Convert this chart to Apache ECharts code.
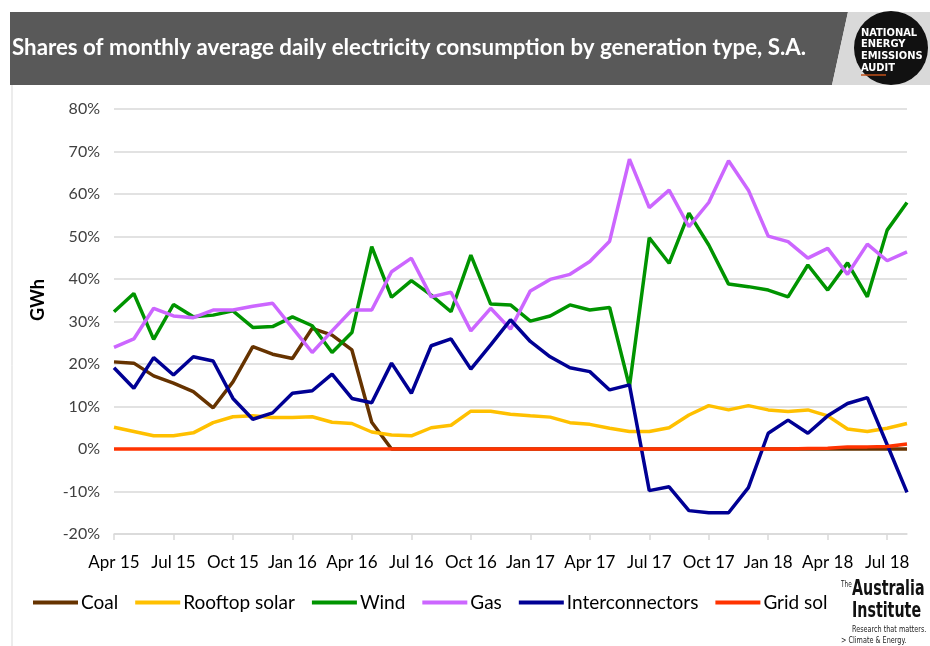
<!DOCTYPE html>
<html>
<head>
<meta charset="utf-8">
<script src="https://cdn.jsdelivr.net/npm/echarts@6/dist/echarts.min.js"></script>
<style>
  html, body { margin: 0; padding: 0; background: #fff; }
  #chart { width: 930px; height: 646px; }
</style>
</head>
<body>
<div id="chart"></div>
<script>
const months = ['Apr 15', 'May 15', 'Jun 15', 'Jul 15', 'Aug 15', 'Sep 15', 'Oct 15', 'Nov 15', 'Dec 15',
    'Jan 16', 'Feb 16', 'Mar 16', 'Apr 16', 'May 16', 'Jun 16', 'Jul 16', 'Aug 16', 'Sep 16', 'Oct 16', 'Nov 16', 'Dec 16',
    'Jan 17', 'Feb 17', 'Mar 17', 'Apr 17', 'May 17', 'Jun 17', 'Jul 17', 'Aug 17', 'Sep 17', 'Oct 17', 'Nov 17', 'Dec 17',
    'Jan 18', 'Feb 18', 'Mar 18', 'Apr 18', 'May 18', 'Jun 18', 'Jul 18', 'Aug 18'];

// shares in %
const coal = [20.5, 20.2, 17.2, 15.5, 13.5, 9.7, 15.8, 24.1, 22.3, 21.3, 28.4, 26.8, 23.3, 6.3, 0,
    0, 0, 0, 0, 0, 0, 0, 0, 0, 0, 0, 0, 0, 0, 0, 0, 0, 0, 0, 0, 0, 0, 0, 0, 0, 0];
const rooftopSolar = [5.1, 4.1, 3.1, 3.1, 3.8, 6.2, 7.6, 7.8, 7.4, 7.4, 7.6, 6.3, 6.0, 4.0,
    3.3, 3.1, 5.0, 5.6, 8.9, 8.9, 8.2, 7.8, 7.5, 6.2, 5.8, 4.9, 4.1,
    4.1, 5.0, 8.0, 10.2, 9.2, 10.2, 9.2, 8.8, 9.2, 7.8, 4.7, 4.1, 4.9, 6.0];
const wind = [32.3, 36.6, 25.8, 34.0, 31.1, 31.5, 32.5, 28.6, 28.8, 31.1, 29.0, 22.7, 27.4,
    47.6, 35.7, 39.6, 36.2, 32.3, 45.6, 34.1, 33.9, 30.1, 31.3, 33.9, 32.7, 33.3,
    14.7, 49.7, 43.7, 55.5, 48.0, 38.8, 38.2, 37.4, 35.8, 43.3, 37.4, 43.8, 35.8, 51.5, 58.0];
const gas = [23.9, 25.9, 33.1, 31.3, 30.9, 32.7, 32.7, 33.6, 34.3, 28.5, 22.7, 27.8, 32.7,
    32.7, 41.7, 44.9, 35.8, 36.9, 27.8, 33.1, 28.2, 37.2, 39.9, 41.1, 44.1, 48.9,
    68.2, 56.8, 60.9, 52.3, 58.0, 67.8, 60.9, 50.1, 48.8, 44.9, 47.2, 41.1, 48.2, 44.3, 46.4];
const interconnectors = [19.1, 14.3, 21.5, 17.4, 21.7, 20.7, 11.9, 7.0, 8.5, 13.1, 13.7, 17.6, 11.9, 10.9,
    20.2, 13.1, 24.3, 25.9, 18.8, 24.5, 30.4, 25.3, 21.7, 19.1, 18.2, 13.9, 15.1,
    -9.8, -8.9, -14.5, -15.0, -15.0, -9.1, 3.7, 6.8, 3.7, 7.8, 10.7, 12.1, 1.0, -10.2];
const gridSolar = [0, 0, 0, 0, 0, 0, 0, 0, 0, 0, 0, 0, 0, 0, 0, 0, 0, 0, 0, 0, 0, 0, 0, 0, 0, 0, 0,
    0, 0, 0, 0, 0, 0, 0, 0, 0.1, 0.2, 0.5, 0.5, 0.6, 1.2];

const seriesNames = ['Coal', 'Rooftop solar', 'Wind', 'Gas', 'Interconnectors', 'Grid sol'];
const seriesData = [coal, rooftopSolar, wind, gas, interconnectors, gridSolar];
const seriesColors = ['#663300', '#ffc000', '#009400', '#cc66ff', '#000094', '#ff3300'];

const font = 'Lato, "Open Sans", sans-serif';
const logoFont = '"DejaVu Sans Condensed", "DejaVu Sans", sans-serif';

let chart = echarts.init(document.getElementById('chart'));

let option = {
    animation: false,
    backgroundColor: '#fff',
    textStyle: { fontFamily: font },
    grid: {
        left: 114,
        right: 23,
        top: 109,
        bottom: 112
    },
    legend: {
        left: 33,
        top: 593,
        padding: 0,
        itemWidth: 45,
        itemHeight: 4,
        itemGap: 17,
        icon: 'rect',
        textStyle: { fontSize: 19, color: '#000', fontFamily: font, padding: [0, 0, 0, -2] },
        data: seriesNames
    },
    xAxis: {
        type: 'category',
        boundaryGap: false,
        data: months,
        axisLine: { onZero: false, lineStyle: { color: '#d9d9d9', width: 1.5 } },
        axisTick: { interval: 2, length: 6, lineStyle: { color: '#d9d9d9', width: 1.5 } },
        axisLabel: { interval: 2, color: '#000', fontSize: 17, margin: 20 },
        splitLine: { show: false }
    },
    yAxis: {
        type: 'value',
        min: -20,
        max: 80,
        interval: 10,
        axisLine: { show: false },
        axisTick: { show: false },
        axisLabel: { formatter: '{value}%', color: '#404040', fontSize: 16, margin: 14 },
        splitLine: { lineStyle: { color: '#d9d9d9', width: 1.5 } }
    },
    series: seriesNames.map((name, i) => ({
        name: name,
        type: 'line',
        data: seriesData[i],
        symbol: 'none',
        color: seriesColors[i],
        lineStyle: { width: 3.5, color: seriesColors[i] }
    })),
    graphic: [
        // title bar
        { type: 'polygon', shape: { points: [[10, 12], [848, 12], [832, 85], [10, 85]] }, style: { fill: '#595959' } },
        { type: 'polygon', shape: { points: [[848, 12], [930, 12], [930, 85], [832, 85]] }, style: { fill: '#d9d9d9' } },
        { type: 'line', shape: { x1: 12, y1: 85, x2: 12, y2: 646 }, style: { stroke: '#d9d9d9', lineWidth: 1 } },
        {
            type: 'text', x: 12, y: 48,
            style: {
                text: 'Shares of monthly average daily electricity consumption by generation type, S.A.',
                fill: '#fff', font: 'bold 22.3px ' + font, verticalAlign: 'middle'
            }
        },
        // audit logo
        { type: 'circle', shape: { cx: 891, cy: 48, r: 37 }, style: { fill: '#111' } },
        {
            type: 'text', x: 861, y: 27,
            style: {
                text: 'NATIONAL\nENERGY\nEMISSIONS\nAUDIT', fill: '#fff',
                font: 'bold 11px ' + logoFont, lineHeight: 11.7
            }
        },
        { type: 'line', shape: { x1: 861, y1: 75, x2: 886, y2: 75 }, style: { stroke: '#c0501a', lineWidth: 1.5 } },
        // y axis name
        {
            type: 'text', x: 38, y: 300, rotation: Math.PI / 2,
            style: { text: 'GWh', fill: '#000', font: 'bold 18px ' + font, align: 'center', verticalAlign: 'middle' }
        },
        // institute logo
        { type: 'text', x: 841, y: 581, style: { text: 'The', fill: '#222', font: '8px ' + logoFont }, scaleX: 0.8 },
        { type: 'text', x: 852, y: 578, scaleX: 0.72, style: { text: 'Australia', fill: '#111', font: 'bold 22px ' + logoFont } },
        { type: 'text', x: 852, y: 600, scaleX: 0.72, style: { text: 'Institute', fill: '#111', font: 'bold 22px ' + logoFont } },
        { type: 'text', x: 852, y: 625, scaleX: 0.8, style: { text: 'Research that matters.', fill: '#222', font: '9px ' + logoFont } },
        { type: 'text', x: 841, y: 636, scaleX: 0.8, style: { text: '> Climate & Energy.', fill: '#222', font: '9px ' + logoFont } }
    ]
};

chart.setOption(option);
</script>
</body>
</html>
